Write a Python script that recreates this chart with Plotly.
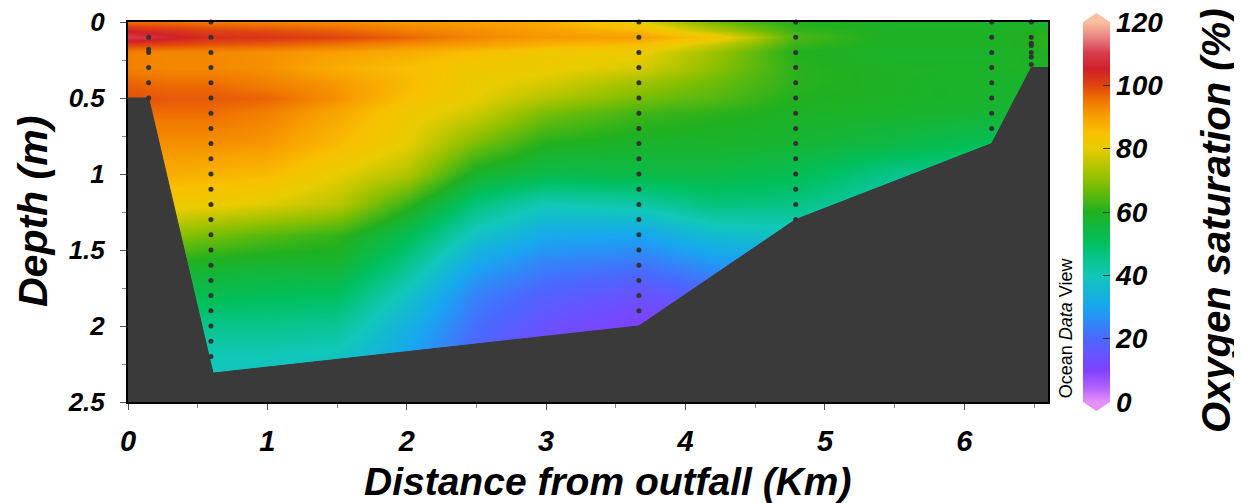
import plotly.graph_objects as go

# ---------------- data ----------------
dist_km = [0.0, 0.3, 0.6, 1.0, 1.5, 2.0, 2.5, 3.0, 3.67, 4.2, 4.79, 5.5, 6.2, 6.6]
depth_m = [0.0, 0.05, 0.1, 0.15, 0.2, 0.3, 0.4, 0.5, 0.6, 0.8, 1.0, 1.2, 1.4, 1.6, 1.8, 2.0, 2.2, 2.4]

oxy_d000 = [96, 96, 95, 94, 93, 91, 90, 88, 80, 68, 60, 58, 58, 58]
oxy_d005 = [104, 102, 100, 99, 97, 94, 92, 90, 86, 74, 62, 59, 59, 60]
oxy_d010 = [110, 106, 103, 102, 100, 97, 93, 91, 90, 84, 64, 59, 59, 61]
oxy_d015 = [100, 99, 98, 97, 95, 92, 90, 87, 85, 76, 62, 59, 59, 61]
oxy_d020 = [94, 93, 93, 92, 90, 88, 85, 82, 81, 72, 60, 58, 58, 60]
oxy_d030 = [94, 93, 93, 92, 88, 85, 82, 81, 78, 70, 61, 59, 59, 59]
oxy_d040 = [97, 96, 96, 94, 91, 86, 81, 78, 72, 67, 61, 59, 58, 58]
oxy_d050 = [99, 98, 98, 97, 92, 85, 80, 74, 68, 65, 60, 59, 58, 58]
oxy_d060 = [96, 96, 96, 94, 89, 82, 77, 68, 63, 61, 59, 58, 57, 57]
oxy_d080 = [92, 92, 92, 91, 86, 80, 68, 60, 58, 58, 57, 54, 51, 51]
oxy_d100 = [88, 88, 87, 86, 80, 74, 58, 53, 54, 54, 52, 45, 44, 44]
oxy_d120 = [82, 82, 81, 79, 75, 62, 47, 40, 42, 47, 46, 40, 40, 40]
oxy_d140 = [70, 70, 68, 65, 62, 52, 38, 31, 30, 36, 38, 36, 36, 36]
oxy_d160 = [60, 59, 58, 57, 57, 45, 30, 24, 22, 27, 29, 28, 28, 28]
oxy_d180 = [53, 53, 52, 51, 50, 38, 24, 18, 14, 18, 20, 20, 20, 20]
oxy_d200 = [46, 46, 45, 45, 44, 33, 21, 14, 10, 12, 14, 14, 14, 14]
oxy_d220 = [41, 41, 40, 40, 39, 30, 19, 12, 10, 10, 10, 10, 10, 10]
oxy_d240 = [38, 38, 38, 37, 36, 28, 18, 11, 10, 10, 10, 10, 10, 10]

# bottom profile (distance km, depth m)
bottom_x = [0.0, 0.148, 0.61, 3.665, 4.79, 6.196, 6.48, 6.7, 6.7, 0.0]
bottom_y = [0.5, 0.5, 2.31, 2.0, 1.3, 0.8, 0.3, 0.3, 2.6, 2.6]

# sampling stations
station_x = [0.148, 0.595, 3.665, 4.79, 6.196, 6.48]
st1_depths = [0.1, 0.18, 0.2, 0.3, 0.4, 0.5]
st2_depths = [0.0, 0.1, 0.2, 0.3, 0.4, 0.5, 0.6, 0.7, 0.8, 0.9, 1.0, 1.1,
              1.2, 1.3, 1.4, 1.5, 1.6, 1.7, 1.8, 1.9, 2.0, 2.1, 2.2]
st3_depths = [0.0, 0.1, 0.2, 0.3, 0.4, 0.5, 0.6, 0.7, 0.8, 0.9, 1.0, 1.1,
              1.2, 1.3, 1.4, 1.5, 1.6, 1.7, 1.8, 1.9]
st4_depths = [0.0, 0.1, 0.2, 0.3, 0.4, 0.5, 0.6, 0.7, 0.8, 0.9, 1.0, 1.1, 1.2, 1.3]
st5_depths = [0.0, 0.1, 0.2, 0.3, 0.4, 0.5, 0.6, 0.7]
st6_depths = [0.0, 0.1, 0.14, 0.155, 0.2, 0.23, 0.28]

cbar_ticks = [0, 20, 40, 60, 80, 100, 120]

# ---------------- figure ----------------
z = [oxy_d000, oxy_d005, oxy_d010, oxy_d015, oxy_d020, oxy_d030, oxy_d040,
     oxy_d050, oxy_d060, oxy_d080, oxy_d100, oxy_d120, oxy_d140, oxy_d160,
     oxy_d180, oxy_d200, oxy_d220, oxy_d240]

odv_scale = [
    [0.000, '#e590f5'], [0.040, '#b060ff'], [0.083, '#8040ff'],
    [0.167, '#4a68ff'], [0.250, '#18a6f0'], [0.333, '#10c8b8'],
    [0.417, '#00c060'], [0.500, '#20b020'], [0.583, '#8cc000'],
    [0.667, '#e8cc00'], [0.708, '#f8c000'], [0.750, '#f8a000'],
    [0.792, '#f07800'], [0.833, '#e04410'], [0.875, '#d02028'],
    [0.917, '#d83a4a'], [0.958, '#e88080'], [1.000, '#f8c0a0'],
]

FONT = "Liberation Sans, Arial, sans-serif"

fig = go.Figure()

fig.add_trace(go.Heatmap(
    x=dist_km, y=depth_m, z=z, zsmooth='best',
    colorscale=odv_scale, zmin=0, zmax=120,
    colorbar=dict(
        x=1.038, xanchor='left', xpad=0, y=0.5, yanchor='middle',
        len=1, lenmode='fraction', ypad=0, thickness=27,
        outlinewidth=0, tickvals=cbar_ticks, ticks='inside', ticklen=7,
        tickcolor='#333', tickwidth=1, ticklabeloverflow='allow',
        tickfont=dict(family=FONT, size=28, weight='bold', style='italic', color='black'),
    ),
    hoverinfo='skip',
))

fig.add_trace(go.Scatter(
    x=bottom_x, y=bottom_y, mode='lines', fill='toself',
    fillcolor='#3a3a3a', line=dict(color='#3a3a3a', width=1),
    hoverinfo='skip', showlegend=False,
))

all_st = [st1_depths, st2_depths, st3_depths, st4_depths, st5_depths, st6_depths]
sx, sy = [], []
for xs, ds in zip(station_x, all_st):
    for d in ds:
        sx.append(xs)
        sy.append(d)
fig.add_trace(go.Scatter(
    x=sx, y=sy, mode='markers',
    marker=dict(size=5, color='#333333'),
    hoverinfo='skip', showlegend=False, cliponaxis=False,
))

tickfont = dict(family=FONT, size=29, weight='bold', style='italic', color='black')
fig.update_xaxes(
    range=[0, 6.6], tickvals=[0, 1, 2, 3, 4, 5, 6], ticks='outside', ticklen=6,
    tickcolor='#555', showgrid=False, zeroline=False, showline=True, mirror=True,
    linecolor='black', linewidth=2, tickfont=tickfont, ticklabelstandoff=6,
    automargin=False, ticklabeloverflow='allow',
    minor=dict(dtick=0.5, tick0=0, ticks='outside', ticklen=4, tickcolor='#888'),
)
fig.update_yaxes(
    range=[2.5, 0], tickvals=[0, 0.5, 1, 1.5, 2, 2.5], ticktext=['0', '0.5', '1', '1.5', '2', '2.5'],
    ticks='outside', ticklen=6, tickcolor='#555', showgrid=False, zeroline=False,
    showline=True, mirror=True, linecolor='black', linewidth=2,
    tickfont=dict(family=FONT, size=26, weight='bold', style='italic', color='black'),
    ticklabelstandoff=10, automargin=False, ticklabeloverflow='allow',
    minor=dict(dtick=0.25, tick0=0, ticks='outside', ticklen=4, tickcolor='#888'),
)

# the page body adds an 8 px offset; plot area targets page px 128..1048 x 22..402
PX0, PY0, PW, PH = 128, 22, 920, 380
def px(xp):
    return (xp - PX0) / PW
def py(yp):
    return (PY0 + PH - yp) / PH

title_font = dict(family=FONT, size=39, weight='bold', style='italic', color='black')
annotations = [
    dict(text='Distance from outfall (Km)', x=px(608), y=py(481),
         xref='paper', yref='paper', xanchor='center', yanchor='middle',
         showarrow=False, font=title_font),
    dict(text='Depth (m)', x=px(33), y=0.5, xref='paper', yref='paper',
         xanchor='center', yanchor='middle', textangle=-90, showarrow=False,
         font=dict(family=FONT, size=41, weight='bold', style='italic', color='black')),
    dict(text='Oxygen saturation (%)', x=px(1216), y=py(221),
         xref='paper', yref='paper', xanchor='center', yanchor='middle', textangle=-90,
         showarrow=False, font=dict(family=FONT, size=40, weight='bold', style='italic', color='black')),
    dict(text='Ocean <i>Data</i> View', x=px(1066), y=0.003,
         xref='paper', yref='paper', xanchor='center', yanchor='bottom', textangle=-90,
         showarrow=False, font=dict(family=FONT, size=18, color='black')),
]

x0c = px(1083)
x1c = px(1110)
xmc = (x0c + x1c) / 2
shapes = [
    dict(type='path', xref='paper', yref='paper',
         path=f'M {x0c},1 L {x1c},1 L {xmc},{py(13)} Z',
         fillcolor='#f8c0a0', line=dict(width=0)),
    dict(type='path', xref='paper', yref='paper',
         path=f'M {x0c},0 L {x1c},0 L {xmc},{py(411)} Z',
         fillcolor='#e590f5', line=dict(width=0)),
]

W, H, OFF = 1242, 503, 8
fig.update_layout(
    width=W, height=H,
    margin=dict(l=PX0 - OFF, r=W - (PX0 - OFF) - PW, t=PY0 - OFF,
                b=H - (PY0 - OFF) - PH, autoexpand=False),
    paper_bgcolor='white', plot_bgcolor='white',
    showlegend=False, annotations=annotations, shapes=shapes,
)

fig.write_html("out.html")
